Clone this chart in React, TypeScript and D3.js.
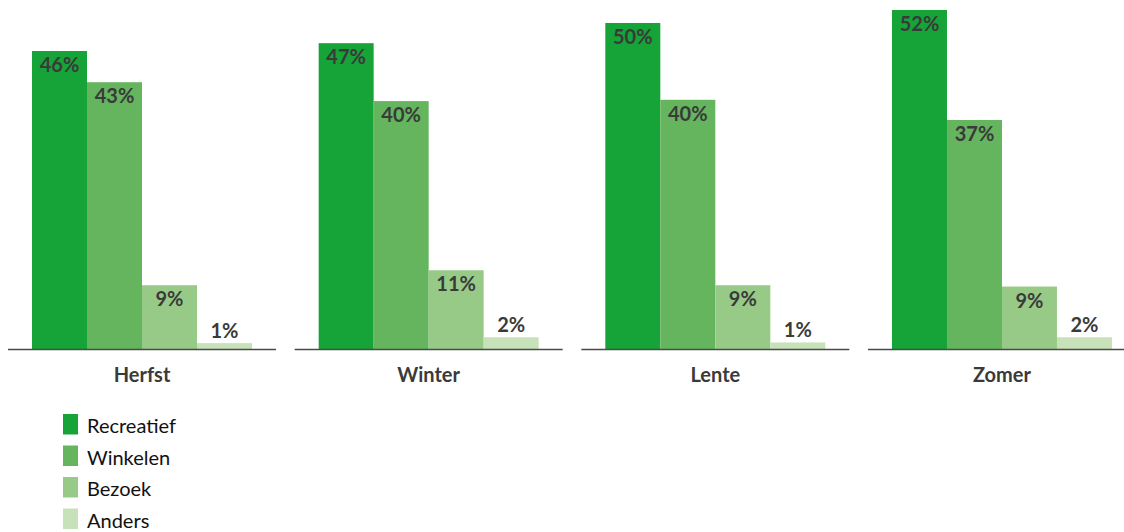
import React, { useEffect, useRef } from "react";
import { select, scaleBand, scaleLinear, scaleOrdinal } from "d3";

const seasons = ["Herfst", "Winter", "Lente", "Zomer"];
const series = ["Recreatief", "Winkelen", "Bezoek", "Anders"];

// bar heights (%)
const recreatief = [45.8, 47.0, 50.1, 52.1];
const winkelen = [41.0, 38.1, 38.3, 35.2];
const bezoek = [9.8, 12.1, 9.8, 9.6];
const anders = [0.9, 1.8, 1.0, 1.8];

// printed labels
const recreatiefLabels = ["46%", "47%", "50%", "52%"];
const winkelenLabels = ["43%", "40%", "40%", "37%"];
const bezoekLabels = ["9%", "11%", "9%", "9%"];
const andersLabels = ["1%", "2%", "1%", "2%"];

const colors = ["#16a338", "#64b55d", "#98ca87", "#c7e1b9"];

function chart(node: SVGSVGElement) {
  const width = 1124;
  const height = 532;
  const baseline = 349;
  const font = "Lato, 'Open Sans', sans-serif";

  const values = [recreatief, winkelen, bezoek, anders];
  const labels = [recreatiefLabels, winkelenLabels, bezoekLabels, andersLabels];

  const data = seasons.flatMap((s, i) =>
    series.map((k, j) => ({ season: s, key: k, value: values[j][i], label: labels[j][i] }))
  );

  const x0 = scaleBand().domain(seasons).range([8, 1136]).paddingInner(0.065).paddingOuter(0);
  const x1 = scaleBand().domain(series).range([24, 244]).padding(0);
  const y = scaleLinear().domain([0, 52.1]).range([baseline, 10]);
  const color = scaleOrdinal<string, string>().domain(series).range(colors);

  const svg = select(node);
  svg.selectAll("*").remove();
  svg.attr("width", width).attr("height", height).attr("viewBox", [0, 0, width, height].join(" "));

  const groups = svg
    .append("g")
    .selectAll("g")
    .data(seasons)
    .join("g")
    .attr("transform", (d) => `translate(${x0(d)},0)`);

  groups
    .selectAll("rect")
    .data((s) => data.filter((d) => d.season === s))
    .join("rect")
    .attr("x", (d) => x1(d.key)!)
    .attr("y", (d) => y(d.value))
    .attr("width", x1.bandwidth())
    .attr("height", (d) => baseline - y(d.value))
    .attr("fill", (d) => color(d.key));

  groups
    .selectAll("text.val")
    .data((s) => data.filter((d) => d.season === s))
    .join("text")
    .attr("class", "val")
    .attr("x", (d) => x1(d.key)! + x1.bandwidth() / 2)
    .attr("y", (d) => (baseline - y(d.value) > 30 ? y(d.value) + 21 : y(d.value) - 5))
    .attr("text-anchor", "middle")
    .attr("font-family", font)
    .attr("font-weight", 700)
    .attr("font-size", 20)
    .attr("fill", "#3a3a3a")
    .text((d) => d.label);

  // per-group axis line
  groups
    .append("line")
    .attr("x1", 0)
    .attr("x2", x0.bandwidth())
    .attr("y1", baseline + 0.5)
    .attr("y2", baseline + 0.5)
    .attr("stroke", "#4a4a4a")
    .attr("stroke-width", 1.6);

  groups
    .append("text")
    .attr("x", x0.bandwidth() / 2)
    .attr("y", 382)
    .attr("text-anchor", "middle")
    .attr("font-family", font)
    .attr("font-weight", 700)
    .attr("font-size", 20)
    .attr("fill", "#3a3a3a")
    .text((d) => d);

  // legend
  const legend = svg
    .append("g")
    .selectAll("g")
    .data(series)
    .join("g")
    .attr("transform", (d, i) => `translate(63,${414 + i * 31.5})`);

  legend
    .append("rect")
    .attr("width", 15)
    .attr("height", 20.5)
    .attr("fill", (d) => color(d));

  legend
    .append("text")
    .attr("x", 24)
    .attr("y", 19)
    .attr("font-family", font)
    .attr("font-size", 20)
    .attr("fill", "#111")
    .text((d) => d);
}

export default function App() {
  const ref = useRef<SVGSVGElement>(null);
  useEffect(() => {
    if (ref.current) chart(ref.current);
  }, []);
  return (
    <svg
      ref={ref}
      style={{ position: "absolute", left: 0, top: 0, display: "block", background: "#fff" }}
    />
  );
}
